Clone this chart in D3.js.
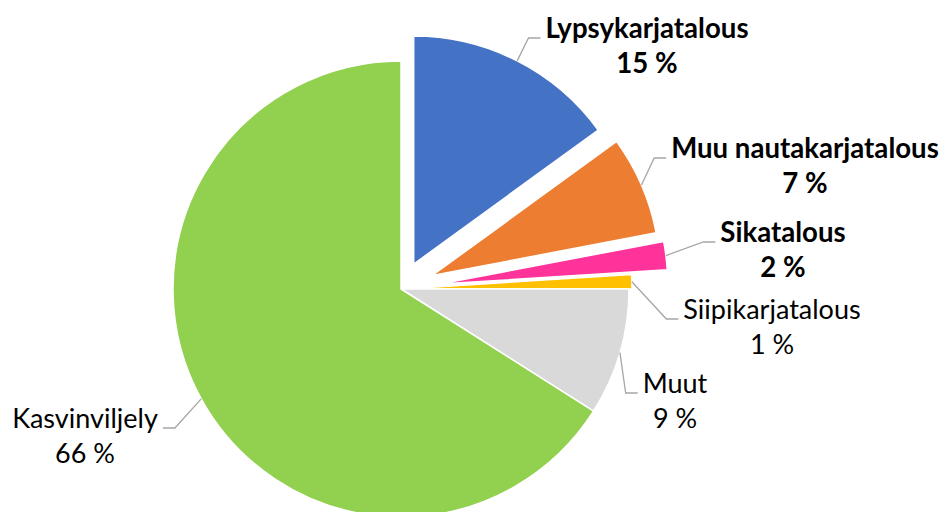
<!DOCTYPE html>
<html>
<head>
<meta charset="utf-8">
<script src="https://cdn.jsdelivr.net/npm/d3@7"></script>
<style>
  body { margin: 0; background: #fff; }
  text { font-family: Lato, "Open Sans", sans-serif; fill: #000; }
</style>
</head>
<body>
<div id="chart"></div>
<script>
const categories = ["Lypsykarjatalous", "Muu nautakarjatalous", "Sikatalous", "Siipikarjatalous", "Muut", "Kasvinviljely"];
const values = [15, 7, 2, 1, 9, 66];
const colors = ["#4472C4", "#ED7D31", "#FF3399", "#FFC000", "#D9D9D9", "#92D050"];
const boldLabel = [true, true, true, false, false, false];

// how far each slice is pulled out, px
const explode = [28, 34, 39, 3, 0, 0];
// label centre x / first baseline, relative to pie centre
const labelOffset = [[246, -251], [404, -131], [382, -47], [371, 30], [274, 104], [-316, 139]];

const width = 944, height = 512;
const cx = 401, cy = 289, radius = 228;
const lineGap = 35;

const svg = d3.select("#chart").append("svg")
  .attr("width", width)
  .attr("height", height);

const g = svg.append("g").attr("transform", `translate(${cx},${cy})`);

const pie = d3.pie().sort(null).startAngle(0).endAngle(2 * Math.PI).value(d => d);
const arcs = pie(values);
const arc = d3.arc().innerRadius(0).outerRadius(radius);

function shift(d, i) {
  const a = (d.startAngle + d.endAngle) / 2;
  return [Math.sin(a) * explode[i], -Math.cos(a) * explode[i]];
}

g.selectAll("path.slice").data(arcs).enter().append("path")
  .attr("class", "slice")
  .attr("d", arc)
  .attr("transform", (d, i) => `translate(${shift(d, i)})`)
  .attr("fill", (d, i) => colors[i])
  .attr("stroke", "#fff")
  .attr("stroke-width", 1.5)
  .attr("stroke-linejoin", "round");

const labels = g.selectAll("g.label").data(arcs).enter().append("g").attr("class", "label");

labels.each(function(d, i) {
  const el = d3.select(this);
  const [lx, ly] = labelOffset[i];
  const size = boldLabel[i] ? "27.6px" : "27px";
  const t1 = el.append("text")
    .attr("x", lx).attr("y", ly)
    .attr("text-anchor", "middle")
    .style("font-size", size)
    .style("font-weight", boldLabel[i] ? 700 : 400)
    .text(categories[i]);
  el.append("text")
    .attr("x", lx).attr("y", ly + lineGap)
    .attr("text-anchor", "middle")
    .style("font-size", size)
    .style("font-weight", boldLabel[i] ? 700 : 400)
    .text(values[i] + " %");

  // leader line: slice edge -> elbow -> next to the label
  const box = t1.node().getBBox();
  const a = (d.startAngle + d.endAngle) / 2;
  const [sx, sy] = shift(d, i);
  const p0 = [sx + Math.sin(a) * radius, sy - Math.cos(a) * radius];
  const right = lx > 0;
  const endX = right ? box.x - 5 : box.x + box.width + 5;
  const elbowX = right ? endX - 12 : endX + 12;
  el.insert("polyline", "text")
    .attr("points", [p0, [elbowX, ly], [endX, ly]].map(p => p.join(",")).join(" "))
    .attr("fill", "none")
    .attr("stroke", "#A6A6A6")
    .attr("stroke-width", 1.3);
});
</script>
</body>
</html>
